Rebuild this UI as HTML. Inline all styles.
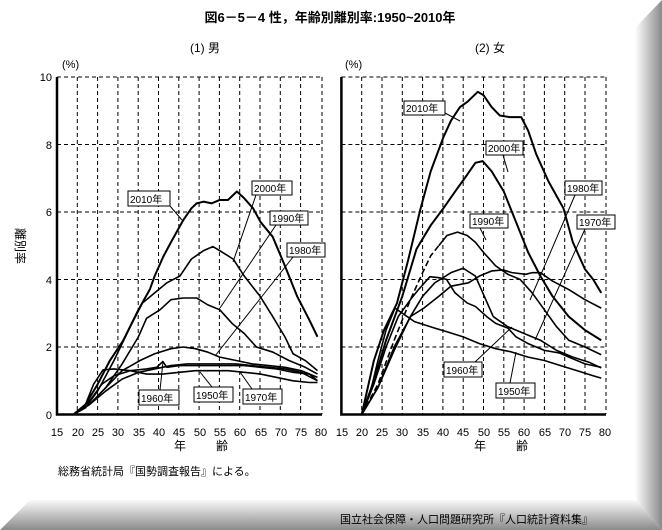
<!DOCTYPE html>
<html><head><meta charset="utf-8"><style>
html,body{margin:0;padding:0;background:#fff}
svg{display:block;font-family:"Liberation Sans","Noto Sans CJK JP",sans-serif}
</style></head><body>
<svg width="662" height="530" viewBox="0 0 662 530" xmlns="http://www.w3.org/2000/svg">
<defs>
<linearGradient id="rg" x1="0" x2="1" y1="0" y2="0"><stop offset="0" stop-color="#fff"/><stop offset="1" stop-color="#8a8a8a"/></linearGradient>
<linearGradient id="bg" x1="0" x2="0" y1="0" y2="1"><stop offset="0" stop-color="#fafafa"/><stop offset="1" stop-color="#8a8a8a"/></linearGradient>
</defs>
<rect width="662" height="530" fill="#fff"/>
<polygon points="635,28 662,0 662,530 635,500" fill="url(#rg)"/>
<polygon points="30,500 635,500 662,530 0,530" fill="url(#bg)"/>
<text x="330" y="22" font-size="13" font-weight="bold" text-anchor="middle">図6－5－4 性，年齢別離別率:1950~2010年</text>
<text x="205" y="52" font-size="12" text-anchor="middle">(1) 男</text>
<text x="490" y="52" font-size="12" text-anchor="middle">(2) 女</text>
<text x="62" y="68" font-size="11">(%)</text>
<text x="345" y="68" font-size="11">(%)</text>
<g font-size="11" text-anchor="end">
<text x="52" y="81">10</text><text x="52" y="149">8</text><text x="52" y="216">6</text><text x="52" y="284">4</text><text x="52" y="351">2</text><text x="52" y="419">0</text>
</g>
<text font-size="12" transform="translate(16,228) rotate(90)">離別率</text>
<g font-size="11" text-anchor="middle">
<text x="57" y="436">15</text><text x="78" y="436">20</text><text x="98" y="436">25</text><text x="118" y="436">30</text><text x="139" y="436">35</text><text x="159" y="436">40</text><text x="179" y="436">45</text><text x="200" y="436">50</text><text x="220" y="436">55</text><text x="240" y="436">60</text><text x="261" y="436">65</text><text x="281" y="436">70</text><text x="301" y="436">75</text><text x="321" y="436">80</text>
<text x="342" y="436">15</text><text x="362" y="436">20</text><text x="382" y="436">25</text><text x="402" y="436">30</text><text x="423" y="436">35</text><text x="443" y="436">40</text><text x="463" y="436">45</text><text x="484" y="436">50</text><text x="504" y="436">55</text><text x="524" y="436">60</text><text x="545" y="436">65</text><text x="565" y="436">70</text><text x="585" y="436">75</text><text x="605" y="436">80</text>
<text x="180" y="450" font-size="12">年</text><text x="222" y="450" font-size="12">齢</text>
<text x="480" y="450" font-size="12">年</text><text x="522" y="450" font-size="12">齢</text>
</g>
<text x="58" y="475" font-size="11">総務省統計局『国勢調査報告』による。</text>
<text x="340" y="523" font-size="11">国立社会保障・人口問題研究所『人口統計資料集』</text>

<g stroke="#000" stroke-width="1" stroke-dasharray="4,3" fill="none">
<path d="M57,77H322M57,144.5H322M57,212H322M57,279.5H322M57,347H322"/>
<path d="M77.3,77V414M97.6,77V414M117.9,77V414M138.2,77V414M158.5,77V414M178.8,77V414M199.1,77V414M219.4,77V414M239.7,77V414M260,77V414M280.3,77V414M300.6,77V414M322,77V414"/>
<path d="M341.4,77H606M341.4,144.5H606M341.4,212H606M341.4,279.5H606M341.4,347H606"/>
<path d="M361.7,77V414M382,77V414M402.3,77V414M422.6,77V414M442.9,77V414M463.2,77V414M483.5,77V414M503.8,77V414M524.1,77V414M544.4,77V414M564.7,77V414M585,77V414M606,77V414"/>
</g>
<g stroke="#000" stroke-width="2.5" fill="none">
<path d="M57,77V414.5H322"/>
<path d="M341.4,77V414.5H606"/>
</g>

<!-- male curves (x = age-15) -->
<g transform="translate(57,414.6) scale(4.07,-33.8)" fill="none" stroke="#000" stroke-width="1.6" stroke-linejoin="round">
<path vector-effect="non-scaling-stroke" stroke-width="2" d="M4,0L7,0.3L10,0.9L13,1.6L16.3,2.2L20,3.1L22.8,3.7L24,4.1L26.1,4.67L28,5.1L31,5.75L33,6.1L34.3,6.25L36,6.3L38,6.25L40,6.35L42,6.35L44.2,6.6L46,6.4L48.2,6.1L50,5.7L53,5.26L56,4.4L59,3.5L62,2.8L64,2.3"/>
<path vector-effect="non-scaling-stroke" d="M4,0L7,0.2L10,0.7L14,1.6L18,2.6L21,3.3L24,3.6L27,3.9L30.2,4.1L33,4.6L36,4.85L38.3,4.97L40,4.85L43.3,4.6L46,4.1L49.9,3.5L53,2.9L56,2.3L58,1.8L61,1.6L64,1.3"/>
<path vector-effect="non-scaling-stroke" d="M4,0L8,0.3L12,0.8L16,1.5L20,2.3L22,2.85L25.3,3.1L28,3.4L31,3.45L34.3,3.45L37,3.25L40,3.1L43,2.7L46,2.4L49,2.0L53,1.85L57,1.6L61,1.4L64,1.2"/>
<path vector-effect="non-scaling-stroke" d="M4,0L8,0.3L12,0.8L16,1.3L20.4,1.6L24,1.8L28,1.95L31,2.0L34,1.95L37,1.85L40,1.7L44,1.6L48,1.5L52,1.45L56,1.4L60,1.3L64,1.1"/>
<path vector-effect="non-scaling-stroke" d="M4,0L8,0.3L12,0.7L16,1.05L20,1.25L24,1.35L28,1.45L32,1.5L36,1.5L40,1.5L44,1.5L48,1.45L52,1.4L56,1.35L60,1.25L64,1.0"/>
<path vector-effect="non-scaling-stroke" d="M4,0L8,0.4L11,0.9L14,1.15L18,1.3L22,1.35L24.5,1.4L26,1.57L27,1.4L30,1.45L34,1.45L38,1.45L42,1.45L46,1.45L50,1.4L54,1.35L58,1.25L62,1.2L64,1.0"/>
<path vector-effect="non-scaling-stroke" d="M4,0L7,0.3L9,0.9L11.3,1.32L14,1.35L18,1.3L22,1.2L26,1.2L30,1.25L34,1.3L38,1.3L42,1.3L46,1.25L50,1.2L54,1.1L58,1.0L62,0.95L64,0.95"/>
</g>
<!-- female curves -->
<g transform="translate(341.4,414.6) scale(4.06,-33.8)" fill="none" stroke="#000" stroke-width="1.6" stroke-linejoin="round">
<path vector-effect="non-scaling-stroke" stroke-width="2" d="M5,0L8,1.6L10.5,2.5L13.7,3.3L16.5,4.6L19.4,6.05L22,7.2L25.1,8.2L27,8.7L29.2,9.1L31,9.25L33.6,9.55L35,9.45L37,9.1L39,8.85L41.5,8.8L44.3,8.8L46,8.4L48,7.7L51,6.9L54.7,6.1L57,5.1L60,4.3L62,4.0L64,3.6"/>
<path vector-effect="non-scaling-stroke" stroke-width="2" d="M5,0L8,1.0L11,2.2L15,3.5L18.5,4.9L22,5.6L25.1,6.1L28,6.6L31,7.1L33,7.45L34.8,7.5L37,7.2L40,6.6L43,5.7L46,4.8L49,4.1L52,3.5L56,2.9L60,2.5L64,2.2"/>
<path vector-effect="non-scaling-stroke" stroke-dasharray="6,3" d="M5,0L9,0.9L13,2.2L17,3.4L20,4.2L22,4.7L24,5.0"/>
<path vector-effect="non-scaling-stroke" d="M24,5.0L26,5.3L28.6,5.4L31,5.3L33,5.1L35,4.8L38,4.4L41,4.15L44,4.0L47,3.6L50,3.1L53,2.6L56,2.2L60,2.0L64,1.77"/>
<path vector-effect="non-scaling-stroke" d="M5,0L9,0.8L13,2.0L17,2.9L20.3,3.15L24,3.5L27,3.8L31.3,3.9L34,4.1L37,4.25L39.8,4.28L42,4.2L45.4,4.15L47,4.2L49,4.2L52,3.95L56,3.7L60,3.4L64,3.15"/>
<path vector-effect="non-scaling-stroke" d="M5,0L9,0.8L13,1.9L17,2.9L20,3.5L23,3.9L27,4.2L30,4.33L33,4.1L37.4,2.9L41,2.6L45,2.4L49,2.2L53,1.9L57,1.7L61,1.55L64,1.38"/>
<path vector-effect="non-scaling-stroke" d="M5,0L8,0.9L11,2.0L14,2.9L17,3.4L19,3.7L21.8,4.08L24,4.05L25.9,4.0L28,3.6L31,3.3L33,3.2L35.8,2.9L38,2.7L41,2.56L43,2.3L46,2.1L50,1.9L53.8,1.82L57,1.65L60,1.5L64,1.4"/>
<path vector-effect="non-scaling-stroke" d="M5,0L7,0.6L9,1.6L11,2.5L13.2,3.15L15,3.0L18,2.75L23.2,2.55L26,2.45L30,2.3L34,2.1L38,1.95L41.7,1.86L46,1.7L50,1.6L54,1.45L58,1.3L62,1.15L64,1.08"/>
</g>

<g font-size="10" fill="#000">
<g stroke="#000" stroke-width="1" fill="#fff">
<rect x="128" y="191" width="42" height="15"/><rect x="252" y="181" width="40" height="14"/><rect x="270" y="211" width="38" height="14"/><rect x="287" y="243" width="38" height="14"/>
<rect x="139" y="390" width="40" height="15"/><rect x="194" y="387" width="39" height="15"/><rect x="243" y="389" width="39" height="15"/>
<rect x="404" y="101" width="41" height="14"/><rect x="486" y="141" width="37" height="14"/><rect x="470" y="214" width="38" height="14"/><rect x="565" y="181" width="37" height="14"/><rect x="577" y="215" width="38" height="14"/><rect x="444" y="362" width="38" height="15"/><rect x="496" y="383" width="39" height="15"/>
</g>
<text x="130" y="203">2010年</text><text x="254" y="192">2000年</text><text x="272" y="222">1990年</text><text x="289" y="254">1980年</text>
<text x="141" y="402">1960年</text><text x="196" y="399">1950年</text><text x="245" y="401">1970年</text>
<text x="406" y="112">2010年</text><text x="488" y="152">2000年</text><text x="472" y="225">1990年</text><text x="567" y="192">1980年</text><text x="579" y="226">1970年</text><text x="446" y="374">1960年</text><text x="498" y="395">1950年</text>
<g stroke="#000" stroke-width="1" fill="none">
<path d="M170,206L182,220M256,195L233,262M276,225L220,308M293,257L215,356M160,390L163,362M212,387L200,372M252,389L240,372"/>
<path d="M445,113L460,121M503,155L508,172M480,228L486,240M575,195L530,300M585,229L535,340M475,362L512,327M510,383L516,352"/>
</g>
</g>
</svg>
</body></html>
